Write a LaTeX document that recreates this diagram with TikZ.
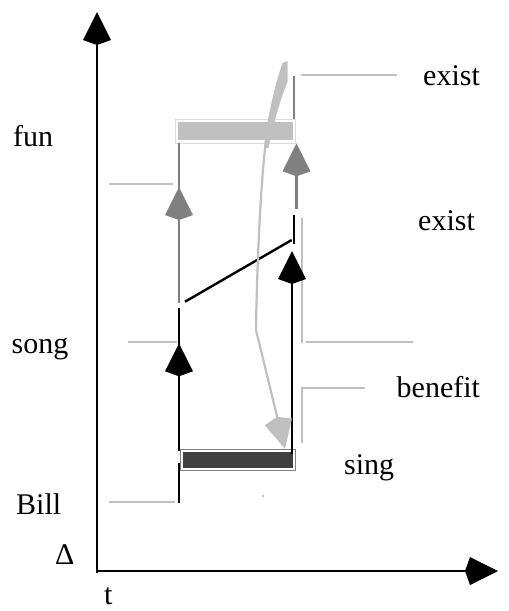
\documentclass[tikz,border=0pt]{standalone}
\usepackage{fontspec}
\setmainfont{Liberation Serif}
\usetikzlibrary{arrows.meta}
\definecolor{lgray}{HTML}{C0C0C0}
\definecolor{mgray}{HTML}{808080}
\definecolor{dgray}{HTML}{404040}
\tikzset{
  lbl/.style={anchor=base west, inner sep=0pt, font=\fontsize{30}{36}\selectfont},
  headtip/.style={-{Kite[length=33pt,width=28pt,inset=5pt]}},
  axis/.style={line width=2pt, black},
  blk/.style={line width=2.4pt, black},
  mid/.style={line width=2.4pt, mgray},
  guide/.style={line width=2pt, lgray},
}
\begin{document}
\begin{tikzpicture}[x=1pt,y=-1pt]
\useasboundingbox (0,0) rectangle (509,611);
% axes
\coordinate (o) at (97,572.5);
\coordinate (ytop) at (97,12);
\coordinate (hx0) at (96,571);
\coordinate (xtip) at (498,571);
\draw[axis,headtip] (o) -- (ytop);
\draw[axis,headtip] (hx0) -- (xtip);
% labels
\node[lbl] (fun) at (13,146.7) {fun};
\node[lbl] (song) at (11.5,353.3) {song};
\node[lbl] (bill) at (16,514) {Bill};
\node[lbl] (delta) at (55,564.3) {Δ};
\node[lbl] (t) at (104,604) {t};
\node[lbl] (exist1) at (423,85) {exist};
\node[lbl] (exist2) at (418,230) {exist};
\node[lbl] (benefit) at (396.5,397.3) {benefit};
\node[lbl] (sing) at (344,474) {sing};
% bars
\draw[lgray!55, line width=0.6pt, fill=white] (175.7,119.3) rectangle (295,143.3);
\fill[lgray] (177.7,121.7) rectangle (292.7,140);
\draw[mgray, line width=0.6pt] (180,449.3) rectangle (295.7,470);
\fill[dgray] (183.3,452.3) rectangle (292.7,468.3);
% guide lines
\coordinate (gf1) at (109,184.3); \coordinate (gf2) at (172.7,184.3);
\coordinate (gs1) at (127.7,341.7); \coordinate (gs2) at (176.7,341.7);
\coordinate (gb1) at (109,501.7); \coordinate (gb2) at (175,501.7);
\coordinate (ge1) at (300.7,74.5); \coordinate (ge2) at (396.7,74.5);
\coordinate (gx1) at (302.3,218); \coordinate (gx2) at (302.3,342.5);
\coordinate (gx3) at (306,341.7); \coordinate (gx4) at (412.7,341.7);
\coordinate (gn1) at (365,387.5); \coordinate (gn2) at (302.3,387.5); \coordinate (gn3) at (302.3,443.3);
\draw[guide] (gf1) -- (gf2);
\draw[guide] (gs1) -- (gs2);
\draw[guide] (gb1) -- (gb2);
\draw[guide] (ge1) -- (ge2);
\draw[guide] (gx1) -- (gx2);
\draw[guide] (gx3) -- (gx4);
\draw[guide] (gn1) -- (gn2) -- (gn3);
\fill[lgray] (261.5,494.8) rectangle (263.8,497.2);
% left column
\coordinate (lb0) at (179,450.5); \coordinate (lbtip) at (179,343.3); \coordinate (lb1) at (179,308);
\coordinate (lg0) at (179,303); \coordinate (lgtip) at (179,187); \coordinate (lg1) at (179,143.3);
\coordinate (ll0) at (179,463); \coordinate (ll1) at (179,503);
\draw[blk] (lb0) -- (lb1);
\draw[blk,headtip] (lb0) -- (lbtip);
\draw[mid] (lg0) -- (lg1);
\draw[mid,headtip] (lg0) -- (lgtip);
\draw[blk] (ll0) -- (ll1);
% slant
\coordinate (s0) at (185,301.7); \coordinate (s1) at (291.7,240);
\draw[blk] (s0) -- (s1);
% right column
\coordinate (rb0) at (292,454); \coordinate (rbtip) at (292,251);
\coordinate (rs0) at (294,215); \coordinate (rs1) at (294,243.5);
\coordinate (rg0) at (296.5,209); \coordinate (rgtip) at (296.5,143.3);
\coordinate (ru0) at (294,76); \coordinate (ru1) at (294,118.5);
\draw[blk,headtip] (rb0) -- (rbtip);
\draw[blk] (rs0) -- (rs1);
\draw[mid,headtip] (rg0) -- (rgtip);
\draw[mid] (ru0) -- (ru1);
% curved light arrow
\fill[lgray] (282.5,63) -- (287.5,61) -- (287.5,82)
  .. controls (280,100) and (273,125) .. (268.5,148) -- (264,148)
  .. controls (267,118) and (275,85) .. cycle;
\coordinate (c0) at (266,140); \coordinate (c1) at (256,330); \coordinate (ctip) at (285,449);
\draw[lgray, line width=2.2pt] (c0) .. controls (261,180) and (257,260) .. (c1);
\draw[lgray, line width=2.2pt, headtip] (c1) -- (ctip);
\end{tikzpicture}
\end{document}
